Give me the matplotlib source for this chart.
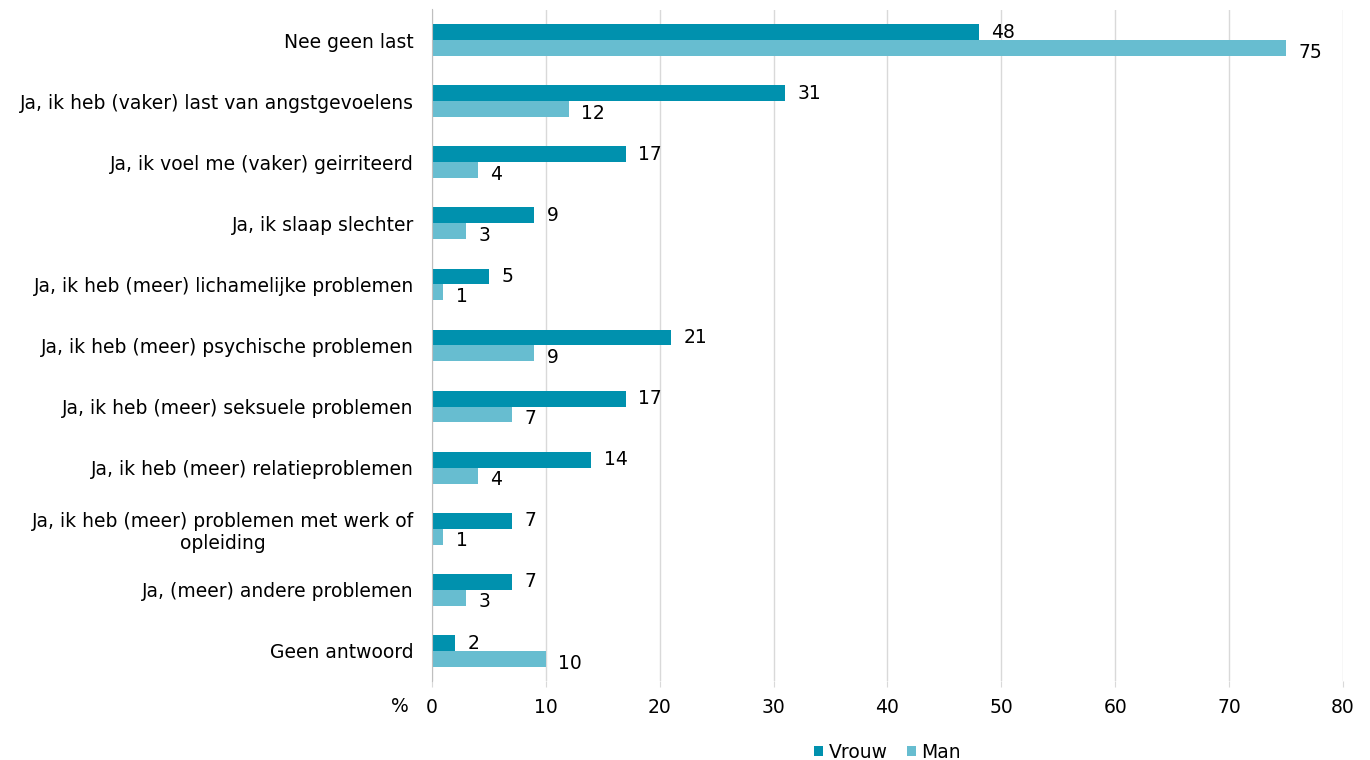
import numpy as np
import matplotlib.pyplot as plt

categories = [
    "Nee geen last",
    "Ja, ik heb (vaker) last van angstgevoelens",
    "Ja, ik voel me (vaker) geirriteerd",
    "Ja, ik slaap slechter",
    "Ja, ik heb (meer) lichamelijke problemen",
    "Ja, ik heb (meer) psychische problemen",
    "Ja, ik heb (meer) seksuele problemen",
    "Ja, ik heb (meer) relatieproblemen",
    "Ja, ik heb (meer) problemen met werk of\nopleiding",
    "Ja, (meer) andere problemen",
    "Geen antwoord",
]
vrouw = [48, 31, 17, 9, 5, 21, 17, 14, 7, 7, 2]
man = [75, 12, 4, 3, 1, 9, 7, 4, 1, 3, 10]
xticks = [0, 10, 20, 30, 40, 50, 60, 70, 80]

DARK = "#0091AE"
LIGHT = "#67BDD0"
FS = 13.5

plt.rcParams["font.family"] = ["DejaVu Sans"]

fig = plt.figure(figsize=(13.7, 7.6), dpi=100)
ax = fig.add_axes([0.3153, 0.1033, 0.665, 0.8842])

y = np.arange(len(categories))
h = 0.26
ax.barh(y - h / 2, vrouw, height=h, color=DARK, label="Vrouw", zorder=3)
ax.barh(y + h / 2, man, height=h, color=LIGHT, label="Man", zorder=3)

# value labels next to the bars
for i in range(len(categories)):
    ax.annotate(str(vrouw[i]), (vrouw[i], y[i] - h / 2), xytext=(9, 0),
                textcoords="offset points", va="center", ha="left", fontsize=FS)
    ax.annotate(str(man[i]), (man[i], y[i] + h / 2), xytext=(9, -3),
                textcoords="offset points", va="center", ha="left", fontsize=FS)

ax.set_ylim(len(categories) - 0.5, -0.5)
ax.set_xlim(0, 80)
ax.set_yticks(y)
ax.set_yticklabels(categories, fontsize=FS, multialignment="center")
ax.set_xticks(xticks)
ax.set_xticklabels([str(t) for t in xticks], fontsize=FS)
ax.tick_params(axis="y", length=0, pad=13)
ax.tick_params(axis="x", length=4, color="#d9d9d9", pad=8)

ax.grid(axis="x", color="#d9d9d9", linewidth=1, zorder=0)
for s in ["top", "right", "bottom"]:
    ax.spines[s].set_visible(False)
ax.spines["left"].set_color("#bfbfbf")
ax.spines["left"].set_zorder(4)

fig.text(400 / 1370, 1 - 706 / 760, "%", fontsize=FS, ha="center", va="center")

ax.legend(loc="center", bbox_to_anchor=(0.5, -0.105), ncol=2, frameon=False,
          fontsize=FS, handlelength=0.5, handleheight=0.5, handletextpad=0.3,
          columnspacing=1.0)

fig.savefig("out.png", dpi=100)
